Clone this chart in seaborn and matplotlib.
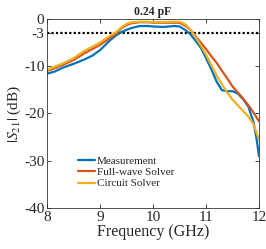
import pandas as pd
import matplotlib
matplotlib.use("Agg")
import matplotlib.pyplot as plt
import seaborn as sns

freq = [8.0, 8.15, 8.3, 8.5, 8.7, 8.85, 9.0, 9.1, 9.2, 9.3, 9.4, 9.5, 9.6, 9.75, 9.9, 10.0, 10.2,
        10.4, 10.5, 10.6, 10.7, 10.8, 10.9, 11.0, 11.1, 11.2, 11.3, 11.4, 11.5, 11.6, 11.7, 11.8,
        11.9, 11.95, 12.0]
meas = [-11.6, -11.1, -10.3, -9.5, -8.6, -7.8, -6.6, -5.5, -4.4, -3.5, -2.8, -2.3, -1.9, -1.5,
        -1.5, -1.6, -1.7, -1.5, -1.6, -2.3, -3.2, -4.6, -6.1, -8.3, -10.7, -13.3, -15.1, -15.3,
        -15.3, -15.8, -17.0, -18.6, -22.1, -25.2, -29.1]
full = [-11.0, -10.4, -9.7, -8.7, -7.3, -6.4, -5.5, -4.7, -3.9, -3.2, -2.0, -1.3, -0.9, -0.7,
        -0.7, -0.8, -0.8, -0.8, -0.8, -1.4, -2.3, -3.6, -5.0, -6.4, -7.9, -9.3, -11.0, -12.6,
        -14.3, -15.6, -16.9, -18.3, -19.9, -20.8, -21.7]
circ = [-10.8, -10.1, -9.4, -8.3, -6.8, -5.9, -5.0, -4.2, -3.5, -2.8, -1.8, -1.05, -0.7, -0.6,
        -0.6, -0.7, -0.65, -0.6, -0.6, -1.1, -2.2, -3.8, -5.6, -7.6, -9.8, -12.0, -13.9, -15.6,
        -17.1, -18.3, -19.5, -20.7, -22.4, -24.0, -25.6]

series = ["Measurement", "Full-wave Solver", "Circuit Solver"]
colors = ["#0072BD", "#D95319", "#EDB120"]

df = pd.DataFrame({
    "freq": freq * 3,
    "s21": meas + full + circ,
    "series": [series[0]] * len(freq) + [series[1]] * len(freq) + [series[2]] * len(freq),
})

sns.set_style("ticks")
plt.rcParams["font.family"] = ["Liberation Serif", "DejaVu Serif"]
plt.rcParams["mathtext.fontset"] = "stix"

fig, ax = plt.subplots(figsize=(2.66, 2.49), dpi=100)
sns.lineplot(data=df, x="freq", y="s21", hue="series", hue_order=series,
             palette=colors, linewidth=1.6, ax=ax, sort=False)
ax.axhline(-3, color="black", linestyle=(0, (1, 1)), linewidth=1.6, zorder=1)

ax.set_xlim(8, 12)
ax.set_ylim(-40, 0)
ax.set_xticks([8, 9, 10, 11, 12])
ax.set_yticks([0, -3, -10, -20, -30, -40])
ax.set_yticklabels(["0", "-3", "-10", "-20", "-30", "-40"])
ax.tick_params(direction="in", length=3, labelsize=11, width=0.6, top=True, right=True, pad=2)
for s in ax.spines.values():
    s.set_linewidth(0.6)
    s.set_color("#333333")
ax.set_xlabel("Frequency (GHz)", fontsize=11.5, labelpad=0)
ax.set_ylabel(r"$|S_{21}|$ (dB)", fontsize=11)
ax.yaxis.set_label_coords(-0.115, 0.5)
ax.set_title("0.24 pF", fontsize=8.5, fontweight="bold", pad=3)
ax.legend(loc="lower left", frameon=False, fontsize=8, handlelength=1.5,
          handletextpad=0.2, labelspacing=0.15, bbox_to_anchor=(0.1, 0.05))

fig.subplots_adjust(left=0.177, right=0.974, top=0.924, bottom=0.165)
fig.savefig("out.png", dpi=100)
